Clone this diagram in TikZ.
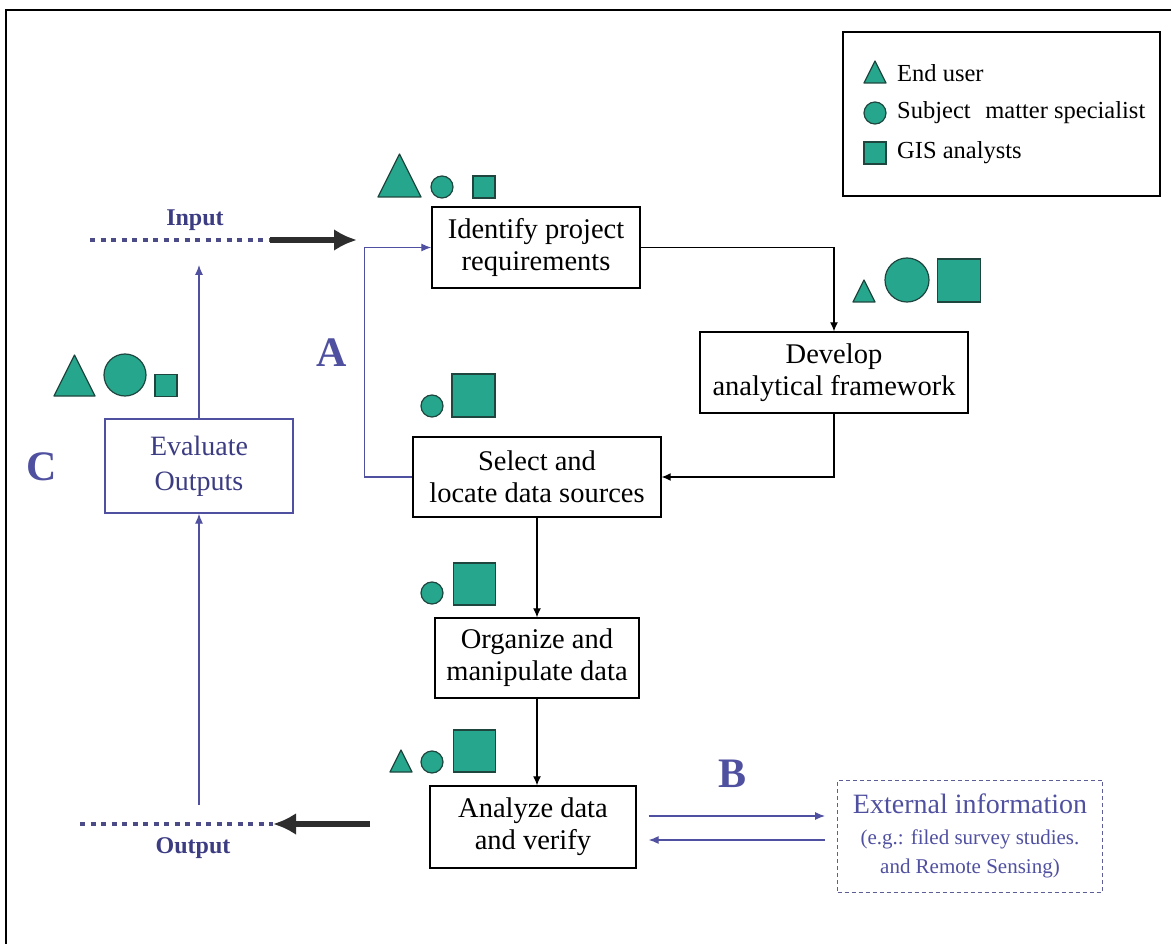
\documentclass[tikz,border=0pt]{standalone}
\usepackage{fontspec}
\setmainfont{Liberation Serif}
\usetikzlibrary{arrows.meta, positioning, calc}
\definecolor{markfill}{RGB}{38,166,140}
\definecolor{markline}{RGB}{30,70,62}
\definecolor{flowblue}{RGB}{80,80,160}
\definecolor{textblue}{RGB}{60,60,130}
\definecolor{dotblue}{RGB}{75,75,135}
\definecolor{heavy}{RGB}{45,45,45}
\tikzset{
    stepbox/.style={rectangle, draw=black, line width=1.4pt, align=center, inner sep=0pt, font=\fontsize{28.5}{32}\selectfont},
    evalbox/.style={rectangle, draw=flowblue, line width=1.4pt, align=center, inner sep=0pt, text=textblue, font=\fontsize{28}{35}\selectfont},
    extbox/.style={rectangle, draw=flowblue!70!gray, dash pattern=on 4pt off 3pt, line width=1pt, align=center, inner sep=0pt, text=flowblue, font=\fontsize{21}{29}\selectfont},
    enduser/.pic={\filldraw[draw=markline, fill=markfill, line width=1.2pt, line join=round] (-0.5,0) -- (0.5,0) -- (0,-1) -- cycle;},
    specialist/.style={circle, draw=markline, fill=markfill, line width=1.2pt, inner sep=0pt, minimum size=#1},
    analyst/.style={rectangle, draw=markline, fill=markfill, line width=1.2pt, inner sep=0pt, minimum size=#1},
    flow/.style={line width=1.1pt, -{Latex[length=9pt,width=8pt]}},
    blueflow/.style={flow, draw=flowblue, -{Latex[length=10pt,width=8pt]}},
    heavyarrow/.style={line width=6pt, draw=heavy, -{Latex[length=23pt,width=22pt]}},
    dotline/.style={line width=4.5pt, draw=dotblue, dash pattern=on 5pt off 5.5pt},
    letter/.style={font=\fontsize{42}{42}\selectfont\bfseries, text=flowblue},
    io/.style={font=\fontsize{24}{24}\selectfont\bfseries, text=textblue},
    legendtext/.style={anchor=west, inner sep=0pt, font=\fontsize{24.5}{26}\selectfont}
}

\begin{document}
\begin{tikzpicture}[x=1pt, y=-1pt]
        \useasboundingbox (0,0) rectangle (1171,944);
        \draw[line width=2pt] (6,944) -- (6,10) -- (1171,10);

        % Legend
        \node (legend) [draw, line width=1.4pt, minimum width=317pt, minimum height=164pt, inner sep=0pt] at (1001.5,114) {};
        \pic[scale=22] at (875,83) {enduser};
        \node (lgspec) [specialist=22pt] at (875,113) {};
        \node (lganal) [analyst=22pt] at (875,153) {};
        \node (lguser) [legendtext] at (897,73) {End user};
        \node (lgsubj) [legendtext] at (897,113) {Subject\hspace{0.6em}matter specialist};
        \node (lggis) [legendtext] at (897,153) {GIS analysts};

        % Entities
        \node (ident) [stepbox, minimum width=208pt, minimum height=81pt] at (536,247.5) {Identify project\\requirements};
        \node (develop) [stepbox, minimum width=268pt, minimum height=81pt] at (834,372.5) {Develop\\analytical framework};
        \node (select) [stepbox, minimum width=248pt, minimum height=80pt] at (537,477) {Select and\\locate data sources};
        \node (organize) [stepbox, minimum width=204pt, minimum height=80pt] at (537,658) {Organize and\\manipulate data};
        \node (analyze) [stepbox, minimum width=206pt, minimum height=82pt] at (533,827) {Analyze data\\and verify};
        \node (evaluate) [evalbox, minimum width=188pt, minimum height=94pt] at (199,466) {Evaluate\\Outputs};
        \node (external) [extbox, minimum width=265pt, minimum height=112pt] at (970,836) {{\fontsize{28}{32}\selectfont External information}\\[2pt](e.g.: filed survey studies.\\and Remote Sensing)};

        % Roles
        \pic[scale=43] at (399.5,197) {enduser};
        \node (idspec) [specialist=22pt] at (442,187) {};
        \node (idanal) [analyst=22pt] at (484,187) {};
        \pic[scale=22] at (864,302) {enduser};
        \node (dvspec) [specialist=44pt] at (907,280) {};
        \node (dvanal) [analyst=43pt] at (959,280.5) {};
        \pic[scale=41] at (74.5,396) {enduser};
        \node (evspec) [specialist=42pt] at (125,375) {};
        \node (evanal) [analyst=22pt] at (166,385.5) {};
        \node (slspec) [specialist=22pt] at (432,406) {};
        \node (slanal) [analyst=43pt] at (473.5,395.5) {};
        \node (orspec) [specialist=22pt] at (432,593) {};
        \node (oranal) [analyst=42pt] at (474.5,584) {};
        \pic[scale=22] at (401,772) {enduser};
        \node (anspec) [specialist=22pt] at (432,762) {};
        \node (ananal) [analyst=42pt] at (474.5,751) {};

        % Input / Output
        \coordinate (inL) at (90,240);
        \coordinate (inM) at (270,240);
        \coordinate (inR) at (357,240);
        \draw[dotline] (inL) -- (inM);
        \draw[heavyarrow] (inM) -- (inR);
        \node (inlabel) [io] at (195,220) {Input};
        \coordinate (outL) at (80,824);
        \coordinate (outM) at (273,824);
        \coordinate (outR) at (370,824);
        \draw[dotline] (outL) -- (outM);
        \draw[heavyarrow] (outR) -- (outM);
        \node (outlabel) [io] at (193,848) {Output};

        % Flows
        \coordinate (evaltop) at (199,265);
        \coordinate (evalfoot) at (199,805);
        \draw[blueflow] (evaluate.north) -- (evaltop);
        \draw[blueflow] (evalfoot) -- (evaluate.south);
        \draw[blueflow] (select.west) -- ++(-48,0) |- (ident.west);
        \draw[flow] (ident.east) -| (develop.north);
        \draw[flow] (develop.south) |- (select.east);
        \draw[flow] (select.south) -- (organize.north);
        \draw[flow] (organize.south) -- (organize.south |- analyze.north);
        \draw[blueflow] ($(analyze.east)+(12,-11)$) -- ($(analyze.east -| external.west)+(-12,-11)$);
        \draw[blueflow] ($(analyze.east -| external.west)+(-12,13)$) -- ($(analyze.east)+(12,13)$);

        \node (labA) [letter] at (332,353) {A};
        \node (labB) [letter] at (733,774) {B};
        \node (labC) [letter] at (42,467) {C};
\end{tikzpicture}
\end{document}
